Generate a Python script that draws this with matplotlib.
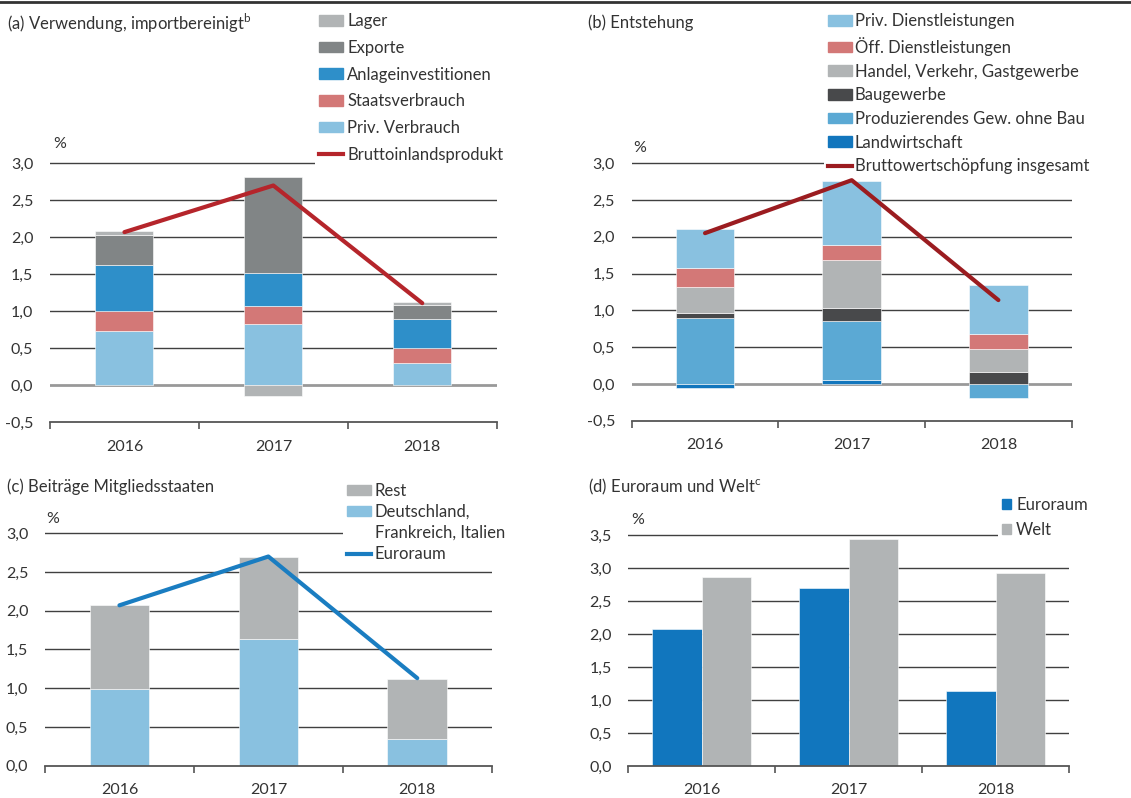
import matplotlib
matplotlib.use('Agg')
import matplotlib.pyplot as plt
import numpy as np
from matplotlib.patches import Patch
from matplotlib.lines import Line2D

plt.rcParams['font.family'] = ['Lato', 'DejaVu Sans']
plt.rcParams['text.color'] = '#333333'
plt.rcParams['mathtext.fontset'] = 'custom'
plt.rcParams['mathtext.rm'] = 'Lato'

years = ['2016', '2017', '2018']

# Panel (a) Verwendung
a_priv = [0.73, 0.83, 0.30]
a_staat = [0.28, 0.24, 0.21]
a_anlage = [0.61, 0.45, 0.38]
a_export = [0.41, 1.30, 0.20]
a_lager = [0.05, -0.14, 0.03]
a_bip = [2.07, 2.70, 1.11]

# Panel (b) Entstehung
b_land = [-0.06, 0.05, 0.00]
b_prod = [0.90, 0.80, -0.19]
b_bau = [0.06, 0.18, 0.16]
b_handel = [0.36, 0.66, 0.32]
b_oeff = [0.26, 0.20, 0.20]
b_priv = [0.52, 0.87, 0.66]
b_bws = [2.05, 2.77, 1.14]

# Panel (c) Beiträge Mitgliedsstaaten
c_dfi = [0.99, 1.63, 0.35]
c_rest = [1.08, 1.06, 0.77]
c_euro = [2.07, 2.70, 1.13]

# Panel (d) Euroraum und Welt
d_euro = [2.07, 2.70, 1.13]
d_welt = [2.87, 3.44, 2.92]

C_LGRAY = '#b1b4b5'
C_DGRAY = '#818586'
C_BLUE = '#2e8fc9'
C_RED = '#d37877'
C_LBLUE = '#89c1e0'
C_MBLUE = '#5ba9d4'
C_DBLUE = '#1276bd'
C_BAU = '#48494b'
TXT = '#333333'
GRID = '#404040'

FS_LEG = 12
FS_TICK = 11.5
XPAD = 12.4

W, H = 1131, 798
fig = plt.figure(figsize=(W / 100, H / 100), dpi=100)


def axes_px(left, right, top, bottom):
    return fig.add_axes([left / W, 1 - bottom / H, (right - left) / W, (bottom - top) / H])


def fmt(v):
    return ('%.1f' % v).replace('.', ',')


def style_axes(ax, yticks, ylim, zero_line, xpad):
    ax.set_xlim(-0.5, 2.5)
    ax.set_ylim(*ylim)
    for s in ['top', 'right', 'left']:
        ax.spines[s].set_visible(False)
    ax.spines['bottom'].set_color('#555555')
    ax.spines['bottom'].set_linewidth(1.3)
    ax.set_yticks(yticks)
    ax.set_yticklabels([fmt(v) for v in yticks])
    for v in yticks:
        if v == 0 and zero_line:
            ax.axhline(0, color='#999999', lw=2.0, zorder=0.6)
        elif v != ylim[0]:
            ax.axhline(v, color=GRID, lw=1.0, zorder=0.5)
    ax.tick_params(axis='y', length=0, pad=12, labelsize=FS_TICK, labelcolor=TXT)
    ax.set_xticks([-0.5, 0.5, 1.5, 2.5])
    ax.set_xticklabels([])
    ax.set_xticks([0, 1, 2], minor=True)
    ax.set_xticklabels(years, minor=True)
    ax.tick_params(axis='x', which='major', length=5, width=1.2, color='#555555', direction='out')
    ax.tick_params(axis='x', which='minor', length=0, pad=xpad, labelsize=FS_TICK, labelcolor=TXT)
    ax.set_facecolor('none')


def stacked(ax, series, colors, width):
    x = np.arange(len(years))
    pos = np.zeros(len(years))
    neg = np.zeros(len(years))
    for vals, col in zip(series, colors):
        vals = np.asarray(vals, dtype=float)
        bottom = np.where(vals >= 0, pos, neg)
        ax.bar(x, vals, width, bottom=bottom, color=col, edgecolor='white', linewidth=0.4, zorder=2)
        pos = pos + np.where(vals >= 0, vals, 0)
        neg = neg + np.where(vals < 0, vals, 0)


def legend(ax, handles, labels, x, y, spacing, hl=1.44, hh=0.6, pad=0.25, fs=FS_LEG):
    leg = ax.legend(handles, labels, loc='upper left', bbox_to_anchor=(x / W, 1 - y / H),
                    bbox_transform=fig.transFigure, frameon=True, facecolor='white',
                    edgecolor='none', framealpha=1, fancybox=False, borderpad=0.25,
                    borderaxespad=0, handlelength=hl, handleheight=hh, handletextpad=pad,
                    labelspacing=spacing, fontsize=fs)
    for t in leg.get_texts():
        t.set_color(TXT)
    leg.set_zorder(10)
    return leg


# top rule
fig.add_artist(Line2D([0, 1], [1 - 2 / H, 1 - 2 / H], color='#333333', lw=2.0,
                      transform=fig.transFigure))

# ---------------- Panel a ----------------
axa = axes_px(50, 496.7, 159.6, 422.3)
style_axes(axa, [-0.5, 0, 0.5, 1.0, 1.5, 2.0, 2.5, 3.0], (-0.5, 3.05), True, XPAD)
stacked(axa, [a_priv, a_staat, a_anlage, a_export, a_lager],
        [C_LBLUE, C_RED, C_BLUE, C_DGRAY, C_LGRAY], 0.39)
axa.plot([0, 1, 2], a_bip, color='#b5252b', lw=3, zorder=4, solid_capstyle='round')
legend(axa,
       [Patch(color=C_LGRAY), Patch(color=C_DGRAY), Patch(color=C_BLUE), Patch(color=C_RED),
        Patch(color=C_LBLUE), Line2D([0], [0], color='#b5252b', lw=3)],
       ['Lager', 'Exporte', 'Anlageinvestitionen', 'Staatsverbrauch', 'Priv. Verbrauch',
        'Bruttoinlandsprodukt'], 314.8, 9.1, 0.64)
fig.text(7 / W, 1 - 23 / H, r'(a) Verwendung, importbereinigt$^{\mathrm{b}}$', fontsize=FS_LEG,
         va='center', ha='left')
fig.text(60 / W, 1 - 144 / H, '%', fontsize=FS_TICK, va='center', ha='center')

# ---------------- Panel b ----------------
axb = axes_px(631.7, 1071.7, 159.6, 420.7)
style_axes(axb, [-0.5, 0, 0.5, 1.0, 1.5, 2.0, 2.5, 3.0], (-0.5, 3.05), True, XPAD)
stacked(axb, [b_land, b_prod, b_bau, b_handel, b_oeff, b_priv],
        [C_DBLUE, C_MBLUE, C_BAU, C_LGRAY, C_RED, C_LBLUE], 0.40)
axb.plot([0, 1, 2], b_bws, color='#9b1c20', lw=3, zorder=4, solid_capstyle='round')
legend(axb,
       [Patch(color=C_LBLUE), Patch(color=C_RED), Patch(color=C_LGRAY), Patch(color=C_BAU),
        Patch(color=C_MBLUE), Patch(color=C_DBLUE), Line2D([0], [0], color='#9b1c20', lw=3)],
       ['Priv. Dienstleistungen', 'Öff. Dienstleistungen', 'Handel, Verkehr, Gastgewerbe',
        'Baugewerbe', 'Produzierendes Gew. ohne Bau', 'Landwirtschaft',
        'Bruttowertschöpfung insgesamt'], 823.5, 9.1, 0.46, pad=0.2)
fig.text(587.7 / W, 1 - 23 / H, '(b) Entstehung', fontsize=FS_LEG, va='center', ha='left')
fig.text(640 / W, 1 - 147.7 / H, '%', fontsize=FS_TICK, va='center', ha='center')

# ---------------- Panel c ----------------
axc = axes_px(45, 491.7, 529.4, 765.7)
style_axes(axc, [0, 0.5, 1.0, 1.5, 2.0, 2.5, 3.0], (0, 3.05), False, XPAD)
stacked(axc, [c_dfi, c_rest], [C_LBLUE, C_LGRAY], 0.40)
axc.plot([0, 1, 2], c_euro, color='#1a7dc1', lw=3, zorder=4, solid_capstyle='round')
legend(axc,
       [Patch(color=C_LGRAY), Patch(color=C_LBLUE), Patch(color='none'),
        Line2D([0], [0], color='#1a7dc1', lw=3)],
       ['Rest', 'Deutschland,', 'Frankreich, Italien', 'Euroraum'], 342.5, 478.6, 0.31)
fig.text(7 / W, 1 - 486.7 / H, '(c) Beiträge Mitgliedsstaaten', fontsize=FS_LEG, va='center', ha='left')
fig.text(53 / W, 1 - 519 / H, '%', fontsize=FS_TICK, va='center', ha='center')

# ---------------- Panel d ----------------
axd = axes_px(628.3, 1069.3, 531.7, 766)
style_axes(axd, [0, 0.5, 1.0, 1.5, 2.0, 2.5, 3.0, 3.5], (0, 3.55), False, XPAD)
x = np.arange(len(years))
bw = 0.336
axd.bar(x - bw / 2, d_euro, bw, color='#1176be', edgecolor='white', linewidth=0.4, zorder=2)
axd.bar(x + bw / 2, d_welt, bw, color=C_LGRAY, edgecolor='white', linewidth=0.4, zorder=2)
legend(axd, [Patch(color='#1176be'), Patch(color=C_LGRAY)], ['Euroraum', 'Welt'],
       997.5, 492.6, 0.56, hl=0.54, hh=0.54, pad=0.33)
fig.text(587.7 / W, 1 - 486.7 / H, r'(d) Euroraum und Welt$^{\mathrm{c}}$', fontsize=FS_LEG,
         va='center', ha='left')
fig.text(638 / W, 1 - 520 / H, '%', fontsize=FS_TICK, va='center', ha='center')

fig.savefig('out.png', dpi=100, facecolor='white')
